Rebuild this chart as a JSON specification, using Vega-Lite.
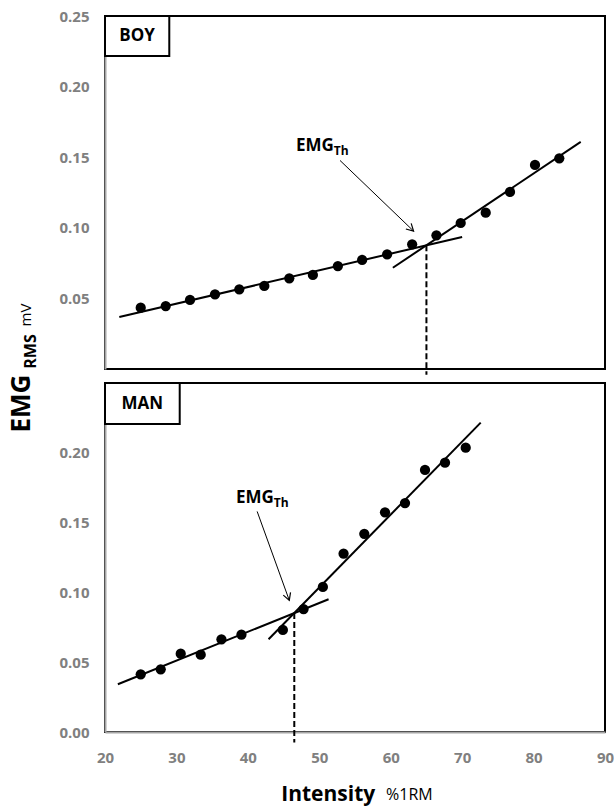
{
  "$schema": "https://vega.github.io/schema/vega-lite/v6.json",
  "background": "white",
  "padding": {"left": 7, "top": 8, "right": 0, "bottom": 4},
  "datasets": {
    "boy_pts": [
      {"intensity": 25.0, "emg": 0.0434},
      {"intensity": 28.5, "emg": 0.0446},
      {"intensity": 31.9, "emg": 0.0489},
      {"intensity": 35.4, "emg": 0.0529},
      {"intensity": 38.8, "emg": 0.0564},
      {"intensity": 42.3, "emg": 0.0588},
      {"intensity": 45.8, "emg": 0.0642},
      {"intensity": 49.1, "emg": 0.0666},
      {"intensity": 52.6, "emg": 0.0729},
      {"intensity": 56.0, "emg": 0.0772},
      {"intensity": 59.5, "emg": 0.0812},
      {"intensity": 63.0, "emg": 0.0883},
      {"intensity": 66.4, "emg": 0.0947},
      {"intensity": 69.8, "emg": 0.1034},
      {"intensity": 73.3, "emg": 0.1107},
      {"intensity": 76.7, "emg": 0.1254},
      {"intensity": 80.2, "emg": 0.1445},
      {"intensity": 83.6, "emg": 0.1492}
    ],
    "man_pts": [
      {"intensity": 25.0, "emg": 0.0413},
      {"intensity": 27.8, "emg": 0.0449},
      {"intensity": 30.6, "emg": 0.0561},
      {"intensity": 33.4, "emg": 0.0554},
      {"intensity": 36.3, "emg": 0.0664},
      {"intensity": 39.1, "emg": 0.0697},
      {"intensity": 44.9, "emg": 0.0731},
      {"intensity": 47.8, "emg": 0.0881},
      {"intensity": 50.5, "emg": 0.1039},
      {"intensity": 53.4, "emg": 0.1277},
      {"intensity": 56.3, "emg": 0.1420},
      {"intensity": 59.2, "emg": 0.1574},
      {"intensity": 62.0, "emg": 0.1640},
      {"intensity": 64.8, "emg": 0.1877},
      {"intensity": 67.6, "emg": 0.1929},
      {"intensity": 70.5, "emg": 0.2037}
    ],
    "boy_fit": [
      {"seg": "lower", "intensity": 22.0, "emg": 0.0368},
      {"seg": "lower", "intensity": 70.0, "emg": 0.0935},
      {"seg": "upper", "intensity": 60.3, "emg": 0.0717},
      {"seg": "upper", "intensity": 86.6, "emg": 0.1608}
    ],
    "man_fit": [
      {"seg": "lower", "intensity": 21.8, "emg": 0.0342},
      {"seg": "lower", "intensity": 51.3, "emg": 0.0951},
      {"seg": "upper", "intensity": 42.9, "emg": 0.0664},
      {"seg": "upper", "intensity": 72.6, "emg": 0.2216}
    ],
    "boy_thr": [{"intensity": 65.0, "emg": 0.0876}],
    "man_thr": [{"intensity": 46.5, "emg": 0.0853}],
    "one": [{}]
  },
  "title": {
    "text": "%1RM",
    "orient": "bottom",
    "anchor": "start",
    "align": "left",
    "dx": 379,
    "baseline": "alphabetic",
    "offset": -5,
    "font": "Open Sans",
    "fontSize": 16,
    "fontWeight": "normal",
    "color": "black"
  },
  "bounds": "flush",
  "spacing": 14,
  "resolve": {"scale": {"x": "independent", "y": "independent"}},
  "vconcat": [
    {
      "width": 500,
      "height": 353,
      "layer": [
        {
          "data": {"name": "boy_fit"},
          "mark": {"type": "line", "color": "black", "strokeWidth": 2},
          "encoding": {
            "x": {
              "field": "intensity", "type": "quantitative",
              "scale": {"domain": [20, 90], "nice": false, "zero": false},
              "axis": {
                "title": "mV", "labels": false, "domain": false, "ticks": false,
                "titleAngle": 270, "titleX": -74.3, "titleY": -54.5,
                "titleBaseline": "alphabetic", "titleAlign": "center",
                "titleFontWeight": "normal", "titleFontSize": 15, "titleColor": "black"
              }
            },
            "y": {
              "field": "emg", "type": "quantitative",
              "scale": {"domain": [0, 0.25], "nice": false},
              "axis": {
                "values": [0.05, 0.1, 0.15, 0.2, 0.25], "format": ".2f", "labelPadding": 16,
                "title": "EMG", "titleAngle": 270, "titleX": -76, "titleY": 387,
                "titleBaseline": "alphabetic", "titleAlign": "center",
                "titleFontSize": 26, "titleFontWeight": "bold", "titleColor": "black"
              }
            },
            "detail": {"field": "seg"}
          }
        },
        {
          "data": {"name": "boy_thr"},
          "mark": {"type": "rule", "color": "black", "strokeWidth": 2, "strokeDash": [6, 3]},
          "encoding": {
            "x": {"field": "intensity", "type": "quantitative"},
            "y": {"field": "emg", "type": "quantitative"},
            "y2": {"datum": -0.004}
          }
        },
        {
          "data": {"name": "boy_pts"},
          "mark": {"type": "circle", "size": 105, "color": "black", "opacity": 1},
          "encoding": {
            "x": {"field": "intensity", "type": "quantitative"},
            "y": {"field": "emg", "type": "quantitative"}
          }
        },
        {
          "data": {"name": "one"},
          "mark": {"type": "rule", "color": "black", "strokeWidth": 1},
          "encoding": {
            "x": {"datum": 52.9, "type": "quantitative"},
            "y": {"datum": 0.1477, "type": "quantitative"},
            "x2": {"datum": 63.2},
            "y2": {"datum": 0.0977}
          }
        },
        {
          "data": {"name": "one"},
          "mark": {"type": "point", "shape": "M-1,-0.55L0,0L-1,0.55", "size": 196, "filled": false, "stroke": "black", "strokeWidth": 1.2, "opacity": 1, "angle": 43.8},
          "encoding": {
            "x": {"datum": 63.2, "type": "quantitative"},
            "y": {"datum": 0.0977, "type": "quantitative"}
          }
        },
        {
          "data": {"name": "one"},
          "mark": {"type": "text", "text": "EMG", "align": "right", "baseline": "alphabetic", "font": "Open Sans", "fontSize": 17, "fontWeight": "bold", "color": "black"},
          "encoding": {
            "x": {"datum": 52.03, "type": "quantitative"},
            "y": {"datum": 0.1544, "type": "quantitative"}
          }
        },
        {
          "data": {"name": "one"},
          "mark": {"type": "text", "text": "Th", "align": "left", "baseline": "alphabetic", "dy": 4, "font": "Open Sans", "fontSize": 12, "fontWeight": "bold", "color": "black"},
          "encoding": {
            "x": {"datum": 52.03, "type": "quantitative"},
            "y": {"datum": 0.1544, "type": "quantitative"}
          }
        },
        {
          "data": {"name": "one"},
          "mark": {"type": "rect", "fill": "white", "stroke": "black", "strokeWidth": 2},
          "encoding": {
            "x": {"datum": 20, "type": "quantitative"},
            "x2": {"datum": 29.0},
            "y": {"datum": 0.25, "type": "quantitative"},
            "y2": {"datum": 0.2217}
          }
        },
        {
          "data": {"name": "one"},
          "mark": {"type": "text", "text": "BOY", "align": "center", "baseline": "middle", "font": "Open Sans", "fontSize": 17, "fontWeight": "bold", "color": "black"},
          "encoding": {
            "x": {"datum": 24.5, "type": "quantitative"},
            "y": {"datum": 0.2358, "type": "quantitative"}
          }
        }
      ]
    },
    {
      "width": 500,
      "height": 349,
      "layer": [
        {
          "data": {"name": "man_fit"},
          "mark": {"type": "line", "color": "black", "strokeWidth": 2},
          "encoding": {
            "x": {
              "field": "intensity", "type": "quantitative",
              "scale": {"domain": [20, 90], "nice": false, "zero": false},
              "axis": {
                "values": [20, 30, 40, 50, 60, 70, 80, 90], "labelPadding": 18, "labelFlush": false,
                "title": "Intensity", "titleX": 222.7, "titleY": 68,
                "titleBaseline": "alphabetic", "titleAlign": "center",
                "titleFontSize": 21, "titleFontWeight": "bold", "titleColor": "black"
              }
            },
            "y": {
              "field": "emg", "type": "quantitative",
              "scale": {"domain": [0, 0.25], "nice": false},
              "axis": {
                "values": [0, 0.05, 0.1, 0.15, 0.2], "format": ".2f", "labelPadding": 16,
                "title": "RMS", "titleAngle": 270, "titleX": -69.3, "titleY": -32,
                "titleBaseline": "alphabetic", "titleAlign": "center",
                "titleFontSize": 16, "titleFontWeight": "bold", "titleColor": "black"
              }
            },
            "detail": {"field": "seg"}
          }
        },
        {
          "data": {"name": "man_thr"},
          "mark": {"type": "rule", "color": "black", "strokeWidth": 2, "strokeDash": [6, 3]},
          "encoding": {
            "x": {"field": "intensity", "type": "quantitative"},
            "y": {"field": "emg", "type": "quantitative"},
            "y2": {"datum": -0.0075}
          }
        },
        {
          "data": {"name": "man_pts"},
          "mark": {"type": "circle", "size": 105, "color": "black", "opacity": 1},
          "encoding": {
            "x": {"field": "intensity", "type": "quantitative"},
            "y": {"field": "emg", "type": "quantitative"}
          }
        },
        {
          "data": {"name": "one"},
          "mark": {"type": "rule", "color": "black", "strokeWidth": 1},
          "encoding": {
            "x": {"datum": 41.3, "type": "quantitative"},
            "y": {"datum": 0.158, "type": "quantitative"},
            "x2": {"datum": 45.8},
            "y2": {"datum": 0.0943}
          }
        },
        {
          "data": {"name": "one"},
          "mark": {"type": "point", "shape": "M-1,-0.55L0,0L-1,0.55", "size": 196, "filled": false, "stroke": "black", "strokeWidth": 1.2, "opacity": 1, "angle": 70.1},
          "encoding": {
            "x": {"datum": 45.8, "type": "quantitative"},
            "y": {"datum": 0.0943, "type": "quantitative"}
          }
        },
        {
          "data": {"name": "one"},
          "mark": {"type": "text", "text": "EMG", "align": "right", "baseline": "alphabetic", "font": "Open Sans", "fontSize": 17, "fontWeight": "bold", "color": "black"},
          "encoding": {
            "x": {"datum": 43.63, "type": "quantitative"},
            "y": {"datum": 0.164, "type": "quantitative"}
          }
        },
        {
          "data": {"name": "one"},
          "mark": {"type": "text", "text": "Th", "align": "left", "baseline": "alphabetic", "dy": 4, "font": "Open Sans", "fontSize": 12, "fontWeight": "bold", "color": "black"},
          "encoding": {
            "x": {"datum": 43.63, "type": "quantitative"},
            "y": {"datum": 0.164, "type": "quantitative"}
          }
        },
        {
          "data": {"name": "one"},
          "mark": {"type": "rect", "fill": "white", "stroke": "black", "strokeWidth": 2},
          "encoding": {
            "x": {"datum": 20, "type": "quantitative"},
            "x2": {"datum": 30.46},
            "y": {"datum": 0.25, "type": "quantitative"},
            "y2": {"datum": 0.2206}
          }
        },
        {
          "data": {"name": "one"},
          "mark": {"type": "text", "text": "MAN", "align": "center", "baseline": "middle", "font": "Open Sans", "fontSize": 17, "fontWeight": "bold", "color": "black"},
          "encoding": {
            "x": {"datum": 25.23, "type": "quantitative"},
            "y": {"datum": 0.2353, "type": "quantitative"}
          }
        }
      ]
    }
  ],
  "config": {
    "view": {"stroke": "black", "strokeWidth": 2},
    "axis": {
      "grid": false,
      "ticks": false,
      "labelFont": "Open Sans",
      "labelFontWeight": "bold",
      "labelFontSize": 15,
      "labelColor": "#808080",
      "domainColor": "#a6a6a6",
      "domainWidth": 2,
      "titleFont": "Open Sans"
    }
  }
}
